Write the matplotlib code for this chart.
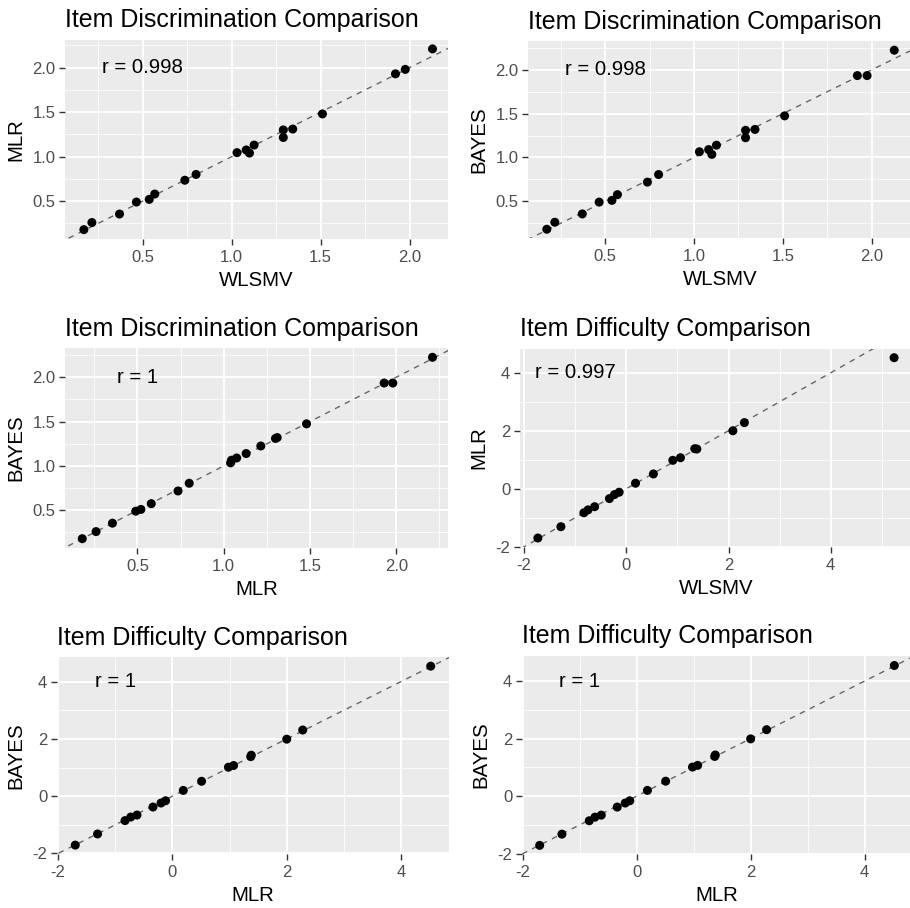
import matplotlib
matplotlib.use("Agg")
import matplotlib.pyplot as plt
import numpy as np
from matplotlib.ticker import MultipleLocator, FuncFormatter

plt.rcParams['font.family'] = ['Liberation Sans', 'DejaVu Sans']

# ---- Item discrimination estimates (one entry per item) ----
disc_wlsmv = [0.17, 0.215, 0.37, 0.465, 0.537, 0.568, 0.737, 0.80, 1.03, 1.082,
              1.10, 1.126, 1.29, 1.29, 1.343, 1.51, 1.92, 1.975, 2.128]
disc_mlr = [0.18, 0.26, 0.355, 0.49, 0.52, 0.58, 0.735, 0.80, 1.045, 1.075,
            1.04, 1.13, 1.30, 1.215, 1.31, 1.48, 1.93, 1.98, 2.21]
disc_bayes = [0.18, 0.26, 0.355, 0.49, 0.51, 0.575, 0.718, 0.805, 1.065, 1.09,
              1.035, 1.14, 1.31, 1.225, 1.32, 1.475, 1.935, 1.935, 2.225]

# ---- Item difficulty estimates ----
diff_wlsmv = [-1.73, -1.28, -0.83, -0.75, -0.62, -0.33, -0.23, -0.14, 0.18, 0.53,
              0.91, 1.06, 1.34, 1.38, 2.085, 2.31, 5.24]
diff_mlr = [-1.70, -1.31, -0.83, -0.73, -0.62, -0.34, -0.20, -0.12, 0.19, 0.51,
            0.98, 1.07, 1.38, 1.37, 2.0, 2.28, 4.52]
diff_bayes = [-1.71, -1.32, -0.855, -0.73, -0.66, -0.38, -0.24, -0.16, 0.20, 0.52,
              1.01, 1.07, 1.43, 1.38, 1.99, 2.31, 4.54]

titles = ["Item Discrimination Comparison", "Item Discrimination Comparison",
          "Item Discrimination Comparison", "Item Difficulty Comparison",
          "Item Difficulty Comparison", "Item Difficulty Comparison"]
xlabels = ["WLSMV", "WLSMV", "MLR", "WLSMV", "MLR", "MLR"]
ylabels = ["MLR", "BAYES", "BAYES", "MLR", "BAYES", "BAYES"]
r_labels = ["r = 0.998", "r = 0.998", "r = 1", "r = 0.997", "r = 1", "r = 1"]
r_pos = [(0.5, 2.0), (0.5, 2.0), (0.5, 2.0), (-1, 4), (-1, 4), (-1, 4)]
tick_step = [0.5, 0.5, 0.5, 2, 2, 2]

data = [(disc_wlsmv, disc_mlr), (disc_wlsmv, disc_bayes), (disc_mlr, disc_bayes),
        (diff_wlsmv, diff_mlr), (diff_mlr, diff_bayes), (diff_mlr, diff_bayes)]

# axis limits
xlims = [(0.064, 2.215), (0.064, 2.228), (0.08, 2.30),
         (-2.08, 5.59), (-2.02, 4.84), (-2.01, 4.83)]
ylims = [(0.075, 2.31), (0.08, 2.33), (0.075, 2.33),
         (-2.01, 4.82), (-2.02, 4.86), (-2.01, 4.87)]

W, H = 910, 908
fig = plt.figure(figsize=(W / 100, H / 100), dpi=100)

# panel boxes in pixels: left, right, top, bottom
boxes = [(65, 448, 40, 239), (528, 912, 41, 238),
         (65, 448, 348, 548), (520, 912, 349, 547),
         (57, 449, 657, 854), (522, 912, 656, 854)]

grey_txt = '#4D4D4D'
for i, (l, r, t, b) in enumerate(boxes):
    ax = fig.add_axes([l / W, 1 - b / H, (r - l) / W, (b - t) / H])
    x, y = data[i]
    ax.set_facecolor('#EBEBEB')
    for s in ax.spines.values():
        s.set_visible(False)
    ax.set_xlim(*xlims[i])
    ax.set_ylim(*ylims[i])
    st = tick_step[i]
    ax.xaxis.set_major_locator(MultipleLocator(st))
    ax.yaxis.set_major_locator(MultipleLocator(st))
    ax.xaxis.set_minor_locator(MultipleLocator(st / 2))
    ax.yaxis.set_minor_locator(MultipleLocator(st / 2))
    if st == 0.5:
        fmt = FuncFormatter(lambda v, p: f"{v:.1f}")
    else:
        fmt = FuncFormatter(lambda v, p: f"{v:.0f}")
    ax.xaxis.set_major_formatter(fmt)
    ax.yaxis.set_major_formatter(fmt)
    ax.grid(which='major', color='white', linewidth=1.3)
    ax.grid(which='minor', color='white', linewidth=0.6)
    ax.set_axisbelow(True)
    ax.tick_params(which='major', length=4, width=1.0, color='#333333',
                   labelsize=12, labelcolor=grey_txt, pad=3)
    ax.tick_params(axis='x', which='major', pad=4)
    ax.tick_params(which='minor', length=0)
    lo, hi = -10, 10
    ax.plot([lo, hi], [lo, hi], linestyle=(0, (4, 4)), color='#666666',
            linewidth=1.0, zorder=2)
    ax.scatter(x, y, s=42, color='black', edgecolors='none', zorder=3)
    ax.text(r_pos[i][0], r_pos[i][1], r_labels[i], ha='center', va='center',
            fontsize=14.7, color='black')
    ax.set_xlabel(xlabels[i], fontsize=14.7, labelpad=4)
    ax.set_ylabel(ylabels[i], fontsize=14.7, labelpad=5)
    ax.set_title(titles[i], loc='left', fontsize=18, pad=9)

fig.savefig('out.png', dpi=100, facecolor='white')
